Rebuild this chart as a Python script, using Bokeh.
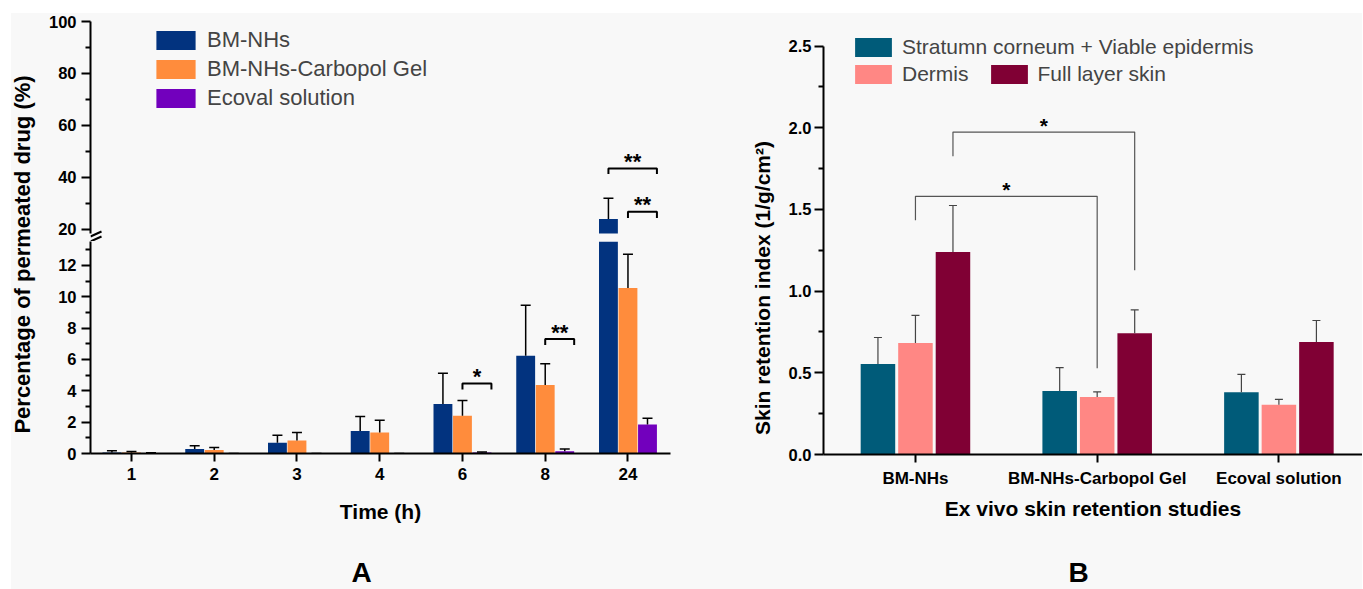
import math
import numpy as np
from bokeh.plotting import figure
from bokeh.models import (Range1d, FixedTicker, Legend, LegendItem, Label, Spacer,
                          ColumnDataSource, NumeralTickFormatter)
from bokeh.layouts import row, column
from bokeh.embed import file_html
from bokeh.resources import INLINE
from bokeh.core.properties import value
from bokeh.transform import dodge

# ---------------- Panel A data ----------------
times = ["1", "2", "3", "4", "6", "8", "24"]
series_A = ["BM-NHs", "BM-NHs-Carbopol Gel", "Ecoval solution"]
bm_nhs = [0.06, 0.28, 0.68, 1.44, 3.16, 6.24, 23.85]
bm_nhs_sd = [0.11, 0.21, 0.49, 0.92, 1.96, 3.21, 8.05]
bm_gel = [0.06, 0.23, 0.83, 1.34, 2.40, 4.37, 10.55]
bm_gel_sd = [0.07, 0.15, 0.51, 0.78, 0.98, 1.36, 2.15]
ecoval = [0.02, 0.0, 0.0, 0.0, 0.06, 0.15, 1.85]
ecoval_sd = [0.02, 0.0, 0.0, 0.0, 0.04, 0.13, 0.40]
colors_A = ["#02337f", "#ff8c3c", "#7200bd"]

# broken y axis segments of panel A
seg_low = [0, 13.52]
seg_up = [18.3, 100]
ticks_A_low = [0, 2, 4, 6, 8, 10, 12]
minor_A_low = [1, 3, 5, 7, 9, 11, 13]
ticks_A_up = [20, 40, 60, 80, 100]
minor_A_up = [30, 50, 70, 90]

# significance brackets (A)
sigA_time = ["6", "8", "24", "24"]
sigA_from = [1, 1, 0, 1]
sigA_top = [4.46, 7.30, 43.35, 26.67]
sigA_leg = [4.08, 6.92, 41.2, 24.24]
sigA_text = ["*", "**", "**", "**"]

# ---------------- Panel B data ----------------
groups_B = ["BM-NHs", "BM-NHs-Carbopol Gel", "Ecoval solution"]
layers_B = ["Stratumn corneum + Viable epidermis", "Dermis", "Full layer skin"]
sc_ve = [0.554, 0.389, 0.381]
sc_ve_sd = [0.162, 0.143, 0.109]
dermis = [0.683, 0.352, 0.304]
dermis_sd = [0.168, 0.031, 0.033]
full_skin = [1.240, 0.742, 0.689]
full_skin_sd = [0.284, 0.143, 0.131]
colors_B = ["#005b79", "#ff8784", "#800034"]

ticks_B = [0.0, 0.5, 1.0, 1.5, 2.0, 2.5]
minor_B = [0.25, 0.75, 1.25, 1.75, 2.25]

sigB_from = ["BM-NHs", "BM-NHs"]
sigB_to = ["BM-NHs-Carbopol Gel", "BM-NHs-Carbopol Gel"]
sigB_layer = [1, 2]
sigB_top = [1.58, 1.973]
sigB_left_leg = [1.434, 1.826]
sigB_right_leg = [0.528, 1.128]
sigB_text = ["*", "*"]

# ---------------- styling ----------------
BG = "#f8f8f8"
FONT = "Liberation Sans"
OFF_A, W_A = 0.236, 0.228
OFF_B, W_B = 0.2064, 0.19
PX_UP = 2.595      # px per unit, upper segment of A
PX_X_A = 82.8      # px per category, A


def base_fig(**kw):
    p = figure(output_backend="svg", toolbar_location=None, **kw)
    p.background_fill_color = BG
    p.border_fill_color = BG
    p.outline_line_color = None
    p.grid.visible = False
    return p


def text_fig(w, h, labels):
    """Plain strip that only carries text labels (axis titles / panel letters)."""
    p = base_fig(title=None, frame_width=w, frame_height=h, min_border=0,
                 x_range=Range1d(0, w), y_range=Range1d(0, h),
                 x_axis_location=None, y_axis_location=None)
    for lab in labels:
        p.add_layout(lab)
    return p


def style_axis(ax, size="16.5px"):
    ax.axis_line_width = 2
    ax.axis_line_color = "black"
    ax.major_tick_line_width = 2
    ax.minor_tick_line_width = 2
    ax.major_tick_in = 0
    ax.minor_tick_in = 0
    ax.major_tick_out = 9
    ax.minor_tick_out = 5
    ax.major_label_text_font = FONT
    ax.major_label_text_font_style = "bold"
    ax.major_label_text_font_size = size
    ax.major_label_text_color = "black"
    ax.axis_label_text_font = FONT
    ax.axis_label_text_font_style = "bold"
    ax.axis_label_text_color = "black"


# ---------------- Panel A ----------------
xA = list(range(len(times)))
valsA = [bm_nhs, bm_gel, ecoval]
sdsA = [bm_nhs_sd, bm_gel_sd, ecoval_sd]
dataA = dict(x=xA)
for i in range(3):
    dataA[f"v{i}"] = valsA[i]
    dataA[f"t{i}"] = list(np.add(valsA[i], sdsA[i]))
    # bar tops as seen by the upper segment (bars below its base have no height there)
    dataA[f"u{i}"] = list(np.maximum(valsA[i], seg_up[0]))
srcA = ColumnDataSource(dataA)


def sig_source(upper):
    bx, by, tx, ty, tt = [], [], [], [], []
    for t, f, top, leg, txt in zip(sigA_time, sigA_from, sigA_top, sigA_leg, sigA_text):
        if (top > seg_low[1]) != upper:
            continue
        k = times.index(t)
        xl = k + (f - 1) * OFF_A
        xr = k + OFF_A + W_A / 2
        bx.append([xl, xl, xr, xr])
        by.append([leg, top, top, leg])
        tx.append((xl + xr) / 2)
        ty.append(top)
        tt.append(txt)
    return ColumnDataSource(dict(xs=bx, ys=by, tx=tx, ty=ty, text=tt))


x_range_A = Range1d(-0.495, 6.514)


def draw_A(p, base, upper):
    rs = []
    for i in range(3):
        off = (i - 1) * OFF_A
        r = p.vbar(x=dodge("x", off), top=(f"u{i}" if upper else f"v{i}"), bottom=base,
                   width=W_A, source=srcA, fill_color=colors_A[i], line_color=None)
        rs.append(r)
        p.segment(x0=dodge("x", off), y0=f"v{i}", x1=dodge("x", off), y1=f"t{i}",
                  source=srcA, line_color="black", line_width=1.5)
        p.scatter(x=dodge("x", off), y=f"t{i}", marker="dash", size=10, source=srcA,
                  line_color="black", line_width=1.5)
    s = sig_source(upper)
    p.multi_line(xs="xs", ys="ys", source=s, line_color="black", line_width=2)
    p.text(x="tx", y="ty", text="text", source=s, text_align="center",
           text_baseline="alphabetic", text_font=value(FONT), text_font_style="bold",
           text_font_size="22px", text_color="black", y_offset=-7)
    return rs


# upper segment: its frame also covers the 8 px gap of the axis break
up_start = seg_up[1] - 220 / PX_UP
upA = base_fig(frame_width=580, frame_height=220, x_range=x_range_A,
               y_range=Range1d(up_start, seg_up[1]), x_axis_location=None,
               min_border_left=49, min_border_right=80, min_border_top=8, min_border_bottom=0)
rsA = draw_A(upA, seg_up[0], True)
style_axis(upA.yaxis[0])
upA.yaxis[0].bounds = (seg_up[0], seg_up[1])
upA.yaxis[0].ticker = FixedTicker(ticks=ticks_A_up, minor_ticks=minor_A_up)
upA.yaxis[0].major_label_standoff = 5

# axis-break marks (two short slanted strokes in the gap)
xs0 = x_range_A.start
upA.segment(x0=[xs0, xs0], y0=[up_start + 0 / PX_UP, up_start + 5 / PX_UP],
            x1=[xs0 + 11 / PX_X_A] * 2, y1=[up_start + 5 / PX_UP, up_start + 10 / PX_UP],
            line_color="black", line_width=2)

legA = Legend(items=[LegendItem(label=s, renderers=[r]) for s, r in zip(series_A, rsA)],
              location=(61, 130), orientation="vertical", glyph_width=49, glyph_height=24,
              label_standoff=7, spacing=3, padding=0, margin=0, border_line_color=None,
              background_fill_alpha=0, label_text_font=FONT, label_text_font_size="22px",
              label_height=24)
upA.add_layout(legA)

lowA = base_fig(frame_width=580, frame_height=212, x_range=x_range_A,
                y_range=Range1d(seg_low[0], seg_low[1]),
                min_border_left=49, min_border_right=80, min_border_top=0, min_border_bottom=99)
draw_A(lowA, seg_low[0], False)
style_axis(lowA.yaxis[0])
lowA.yaxis[0].ticker = FixedTicker(ticks=ticks_A_low, minor_ticks=minor_A_low)
lowA.yaxis[0].major_label_standoff = 5
style_axis(lowA.xaxis[0], size="17px")
lowA.xaxis[0].ticker = FixedTicker(ticks=xA, minor_ticks=[])
lowA.xaxis[0].major_label_overrides = {k: t for k, t in zip(xA, times)}
lowA.xaxis[0].major_tick_out = 8
lowA.xaxis[0].major_label_standoff = 6
lowA.xaxis[0].axis_label = "Time (h)"
lowA.xaxis[0].axis_label_text_font_size = "21px"
lowA.xaxis[0].axis_label_standoff = 17

MAIN_H = 539  # height of the main row (y = 13 .. 552)


def ylabel(text, x, y, size):
    return Label(x=x, y=y, text=text, angle=math.pi / 2, text_align="center",
                 text_baseline="middle", text_font=FONT, text_font_style="bold",
                 text_font_size=size, text_color="black")


labA = text_fig(30, MAIN_H, [ylabel("Percentage of permeated drug (%)", 11, MAIN_H - 221, "22px")])
labB = text_fig(25, MAIN_H, [ylabel("Skin retention index (1/g/cm\u00b2)", 12, MAIN_H - 254.5, "21px")])

# ---------------- Panel B ----------------
xB = list(range(len(groups_B)))
valsB = [sc_ve, dermis, full_skin]
sdsB = [sc_ve_sd, dermis_sd, full_skin_sd]
dataB = dict(x=xB)
for i in range(3):
    dataB[f"v{i}"] = valsB[i]
    dataB[f"t{i}"] = list(np.add(valsB[i], sdsB[i]))
srcB = ColumnDataSource(dataB)

pB = base_fig(frame_width=539, frame_height=421, x_range=Range1d(-0.506, 2.46),
              y_range=Range1d(0, 421 / 163.4), min_border_left=48, min_border_right=0,
              min_border_top=20, min_border_bottom=98)
rsB = []
for i in range(3):
    off = (i - 1) * OFF_B
    r = pB.vbar(x=dodge("x", off), top=f"v{i}", bottom=0, width=W_B, source=srcB,
                fill_color=colors_B[i], line_color=None)
    rsB.append(r)
    pB.segment(x0=dodge("x", off), y0=f"v{i}", x1=dodge("x", off), y1=f"t{i}",
               source=srcB, line_color="#444444", line_width=1.2)
    pB.scatter(x=dodge("x", off), y=f"t{i}", marker="dash", size=8, source=srcB,
               line_color="#444444", line_width=1.2)

bxB, byB = [], []
for g0, g1, lay, top, ll, rl in zip(sigB_from, sigB_to, sigB_layer, sigB_top,
                                    sigB_left_leg, sigB_right_leg):
    xl = groups_B.index(g0) + (lay - 1) * OFF_B
    xr = groups_B.index(g1) + (lay - 1) * OFF_B
    bxB.append([xl, xl, xr, xr])
    byB.append([ll, top, top, rl])
srcSigB = ColumnDataSource(dict(
    xs=bxB, ys=byB, tx=[(a[0] + a[-1]) / 2 for a in bxB], ty=sigB_top, text=sigB_text))
pB.multi_line(xs="xs", ys="ys", source=srcSigB, line_color="#555555", line_width=1.2)
pB.text(x="tx", y="ty", text="text", source=srcSigB, text_align="center",
        text_baseline="alphabetic", text_font=value(FONT), text_font_style="bold",
        text_font_size="21px", text_color="black", y_offset=-7)

style_axis(pB.yaxis[0])
pB.yaxis[0].bounds = (ticks_B[0], ticks_B[-1])
pB.yaxis[0].ticker = FixedTicker(ticks=ticks_B, minor_ticks=minor_B)
pB.yaxis[0].formatter = NumeralTickFormatter(format="0.0")
pB.yaxis[0].major_label_standoff = 3
style_axis(pB.xaxis[0], size="17px")
pB.xaxis[0].ticker = FixedTicker(ticks=xB, minor_ticks=[])
pB.xaxis[0].major_label_overrides = {k: g for k, g in zip(xB, groups_B)}
pB.xaxis[0].major_tick_out = 8
pB.xaxis[0].major_label_standoff = 6
pB.xaxis[0].axis_label = "Ex vivo skin retention studies"
pB.xaxis[0].axis_label_text_font_size = "21px"
pB.xaxis[0].axis_label_standoff = 6

leg_kw = dict(glyph_width=46, glyph_height=24, label_standoff=6, padding=0, margin=0,
              border_line_color=None, background_fill_alpha=0, label_text_font=FONT,
              label_text_font_size="21px", label_height=24)
legB1 = Legend(items=[LegendItem(label=layers_B[0], renderers=[rsB[0]])],
               location=(27, 395), orientation="vertical", **leg_kw)
legB2 = Legend(items=[LegendItem(label=layers_B[1], renderers=[rsB[1]]),
                      LegendItem(label=layers_B[2], renderers=[rsB[2]])],
               location=(27, 368), orientation="horizontal", spacing=17, **leg_kw)
pB.add_layout(legB1)
pB.add_layout(legB2)


# ---------------- panel letters strip ----------------
def letter(text, x):
    return Label(x=x, y=17, text=text, text_align="center", text_baseline="middle",
                 text_font=FONT, text_font_style="bold", text_font_size="28px",
                 text_color="black")


strip = text_fig(1351, 37, [letter("A", 350), letter("B", 1067)])

bg_style = {"background-color": BG}
main_row = row(labA, column(upA, lowA, styles=bg_style), labB, pB, styles=bg_style)
content = column(main_row, strip, styles=bg_style)
layout = column(Spacer(height=13), row(Spacer(width=11), content))

open("out.html", "w").write(file_html(layout, INLINE))
